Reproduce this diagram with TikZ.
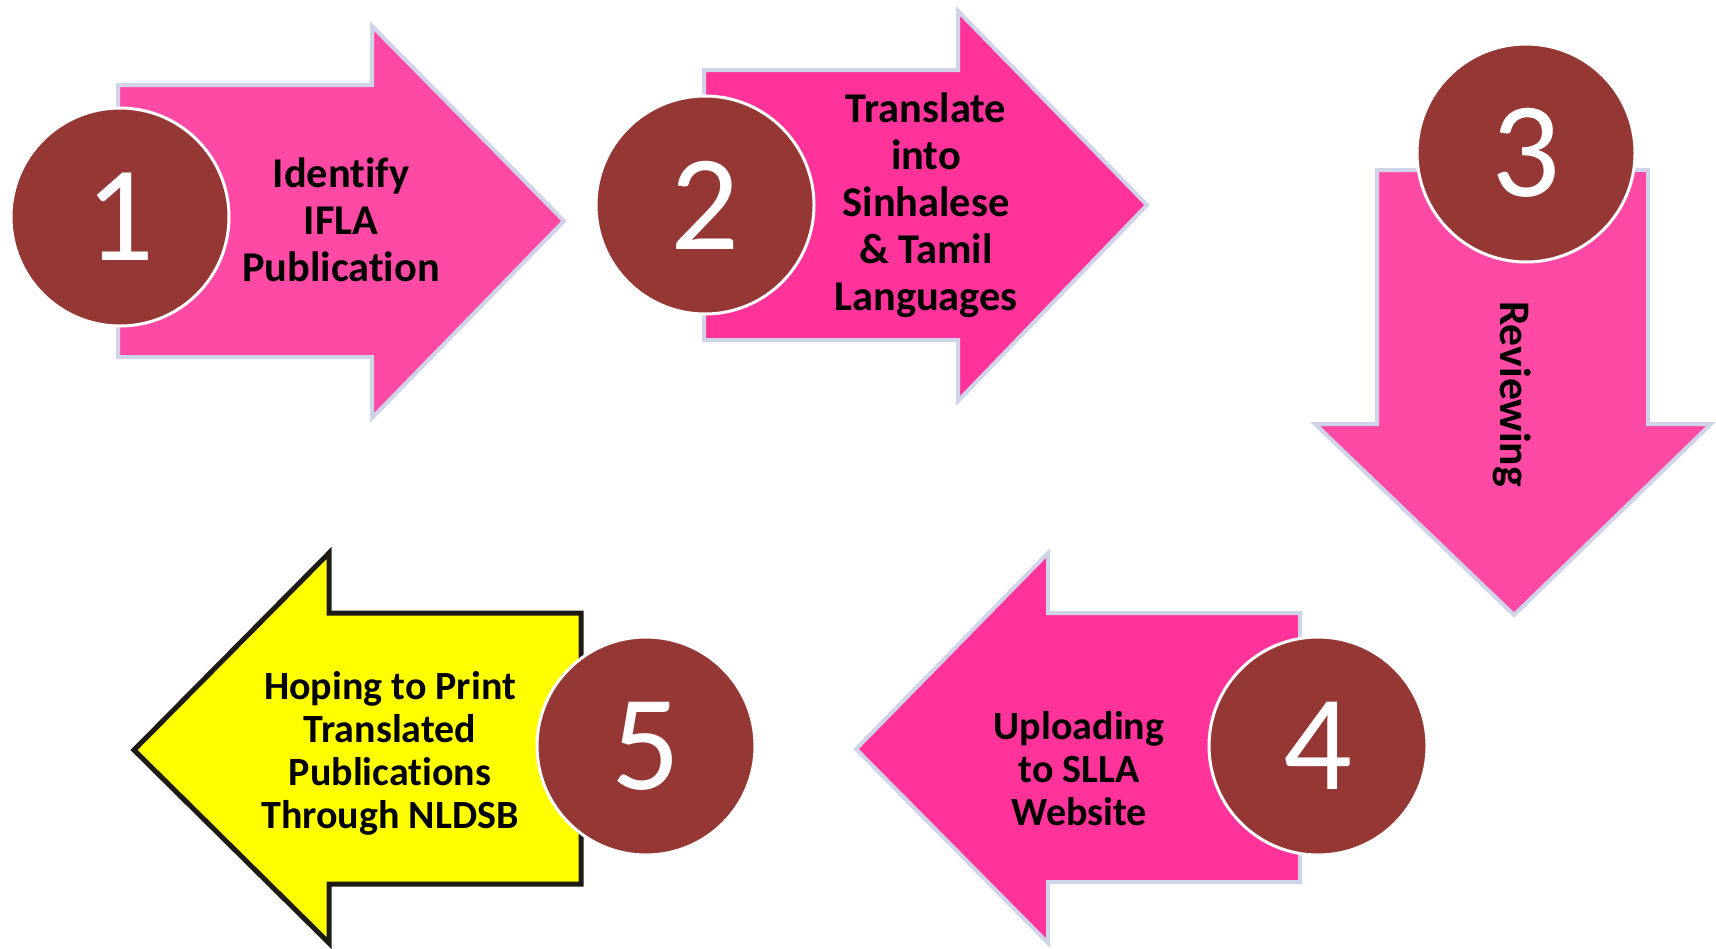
\documentclass[tikz,border=0pt]{standalone}
\usepackage{fontspec}
\setmainfont{Carlito}[Ligatures=NoCommon]
\definecolor{pinkA}{RGB}{255,74,165}
\definecolor{pinkB}{RGB}{255,51,153}
\definecolor{rimgray}{RGB}{208,212,232}
\definecolor{badge}{RGB}{149,55,53}
\definecolor{sun}{RGB}{255,255,0}
\definecolor{ink}{RGB}{30,26,20}
\tikzset{
  arrowA/.style={fill=pinkA, draw=rimgray, line width=2pt, line join=miter},
  arrowB/.style={fill=pinkB, draw=rimgray, line width=2pt, line join=miter},
  arrowY/.style={fill=sun, draw=ink, line width=2.5pt, line join=miter},
  badgecircle/.style={circle, fill=badge, draw=white, line width=1.5pt,
    minimum size=109pt, inner sep=0pt, text=white,
    font=\fontsize{68}{68}\selectfont},
  label/.style={align=center, text=black, inner sep=0pt,
    font=\bfseries\fontsize{21.2}{23.5}\selectfont},
  labeltight/.style={align=center, text=black, inner sep=0pt,
    font=\bfseries\fontsize{20}{21.5}\selectfont}
}
\begin{document}
\begin{tikzpicture}[x=0.5pt,y=-0.5pt]
\useasboundingbox (0,0) rectangle (1716,948);

% step arrows
\draw[arrowA] (118,85) -- (372,85) -- (372,26) -- (564,221) -- (372,418)
  -- (372,357) -- (118,357) -- cycle;
\draw[arrowB] (704,70) -- (958,70) -- (958,11) -- (1147,205) -- (958,401)
  -- (958,340) -- (704,340) -- cycle;
\draw[arrowA] (1377,170) -- (1648,170) -- (1648,424) -- (1711,424)
  -- (1514,615) -- (1315,424) -- (1377,424) -- cycle;
\draw[arrowB] (1300,613) -- (1048,613) -- (1048,553) -- (856,749)
  -- (1048,943) -- (1048,882) -- (1300,882) -- cycle;
\draw[arrowY] (581,613) -- (329,613) -- (329,553) -- (134,750)
  -- (329,943) -- (329,884) -- (581,884) -- cycle;

% step labels
\node[label] (t1) at (341,220) {Identify\\IFLA\\Publication};
\node[label] (t2) at (926,205) {Translate\\into\\Sinhalese\\\& Tamil\\Languages};
\node[label, font=\bfseries\fontsize{21.8}{23.5}\selectfont, rotate=-90]
  (t3) at (1512,394) {Reviewing};
\node[labeltight] (t4) at (1079,769) {Uploading\\to SLLA\\Website};
\node[labeltight] (t5) at (390,753) {Hoping to Print\\Translated\\Publications\\Through NLDSB};

% numbered badges
\node[badgecircle] (c1) at (120,217) {1};
\node[badgecircle] (c2) at (705,205) {2};
\node[badgecircle] (c3) at (1526,153) {3};
\node[badgecircle] (c4) at (1318,746) {4};
\node[badgecircle] (c5) at (646,746) {5};
\end{tikzpicture}
\end{document}
